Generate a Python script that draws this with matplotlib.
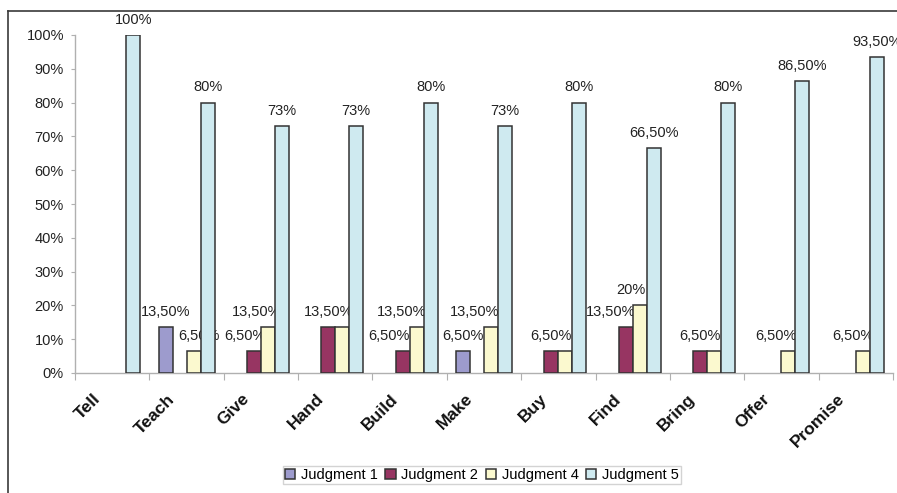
import numpy as np
import matplotlib.pyplot as plt
from matplotlib.lines import Line2D
from matplotlib.transforms import ScaledTranslation

plt.rcParams['font.family'] = ['Liberation Sans', 'DejaVu Sans']

# Share of answers per verb, in percent
verbs = ['Tell', 'Teach', 'Give', 'Hand', 'Build', 'Make',
         'Buy', 'Find', 'Bring', 'Offer', 'Promise']
judgment_1 = [0, 13.5, 0, 0, 0, 6.5, 0, 0, 0, 0, 0]
judgment_2 = [0, 0, 6.5, 13.5, 6.5, 0, 6.5, 13.5, 6.5, 0, 0]
judgment_4 = [0, 6.5, 13.5, 13.5, 13.5, 13.5, 6.5, 20, 6.5, 6.5, 6.5]
judgment_5 = [100, 80, 73, 73, 80, 73, 80, 66.5, 80, 86.5, 93.5]
series_names = ['Judgment 1', 'Judgment 2', 'Judgment 4', 'Judgment 5']
y_ticks = list(range(0, 101, 10))

colors = ['#9d9bcd', '#973562', '#fbf9cf', '#cfeaf0']

# labels that sit on top of a neighbour and are left out
hidden = {(2, 3), (2, 6), (2, 8)}
# sideways nudge of some value labels, in pixels
nudge = {(1, 2): -9, (2, 1): 5, (2, 2): -11, (1, 4): -14, (2, 4): -15,
         (2, 5): -16, (1, 7): -15, (2, 7): -9, (2, 9): -13, (2, 10): -10}


def pct(v):
    if float(v).is_integer():
        return '%d%%' % v
    return ('%.2f%%' % v).replace('.', ',')


fig = plt.figure(figsize=(8.97, 4.93), dpi=100)
ax = fig.add_axes([75 / 897, 1 - 373 / 493, (893 - 75) / 897, (373 - 35) / 493])

x = np.arange(len(verbs))
w = 0.188
all_series = [judgment_1, judgment_2, judgment_4, judgment_5]
for k, (name, vals, c) in enumerate(zip(series_names, all_series, colors)):
    vals = np.array(vals, dtype=float)
    idx = np.nonzero(vals)[0]
    pos = x[idx] + (k - 1.5) * w
    ax.bar(pos, vals[idx], w, color=c, edgecolor='#333333', linewidth=1.1,
           label=name, zorder=3)
    for j, p in zip(idx, pos):
        if (k, j) in hidden:
            continue
        dx = nudge.get((k, j), 0) * 0.72
        ax.annotate(pct(vals[j]), (p, vals[j]), xytext=(dx, 8),
                    textcoords='offset points', ha='center', va='baseline',
                    fontsize=10.5, color='#222222')

ax.set_xlim(-0.5, len(verbs) - 0.5)
ax.set_ylim(0, 100)
ax.set_yticks(y_ticks)
ax.set_yticklabels([pct(t) for t in y_ticks], fontsize=10.5, color='#222222')

ax.set_xticks(np.arange(len(verbs) + 1) - 0.5)
ax.set_xticklabels([])
ax.set_xticks(x, minor=True)
ax.set_xticklabels(verbs, minor=True, rotation=45, ha='right', va='center',
                   rotation_mode='anchor', fontweight='bold', fontsize=12.5,
                   color='#111111')
ax.tick_params(axis='x', which='minor', length=0, pad=17)
ax.tick_params(axis='x', which='major', length=5, color='#b0b0b0')
ax.tick_params(axis='y', length=3, color='#b0b0b0', pad=5)
shift = ScaledTranslation(-14 / 100, 0, fig.dpi_scale_trans)
for lbl in ax.get_xticklabels(minor=True):
    lbl.set_transform(lbl.get_transform() + shift)

for side in ['top', 'right']:
    ax.spines[side].set_visible(False)
for side in ['left', 'bottom']:
    ax.spines[side].set_color('#b0b0b0')
    ax.spines[side].set_linewidth(1.0)

leg = fig.legend(ncol=4, loc='center', bbox_to_anchor=(482 / 897, 1 - 475 / 493),
                 fontsize=10.5, frameon=True, fancybox=False, handlelength=0.7,
                 handleheight=0.7, handletextpad=0.4, columnspacing=0.5,
                 borderpad=0.15, borderaxespad=0)
leg.get_frame().set_edgecolor('#c8c8c8')
leg.get_frame().set_linewidth(1.0)

# outer chart frame, running off the right and bottom edges
fx, fy = 7.5 / 897, 1 - 10.5 / 493
fig.add_artist(Line2D([fx, fx], [0, fy], color='#3a3a3a', lw=1.2))
fig.add_artist(Line2D([fx, 1], [fy, fy], color='#3a3a3a', lw=1.2))

fig.savefig('out.png', dpi=100)
